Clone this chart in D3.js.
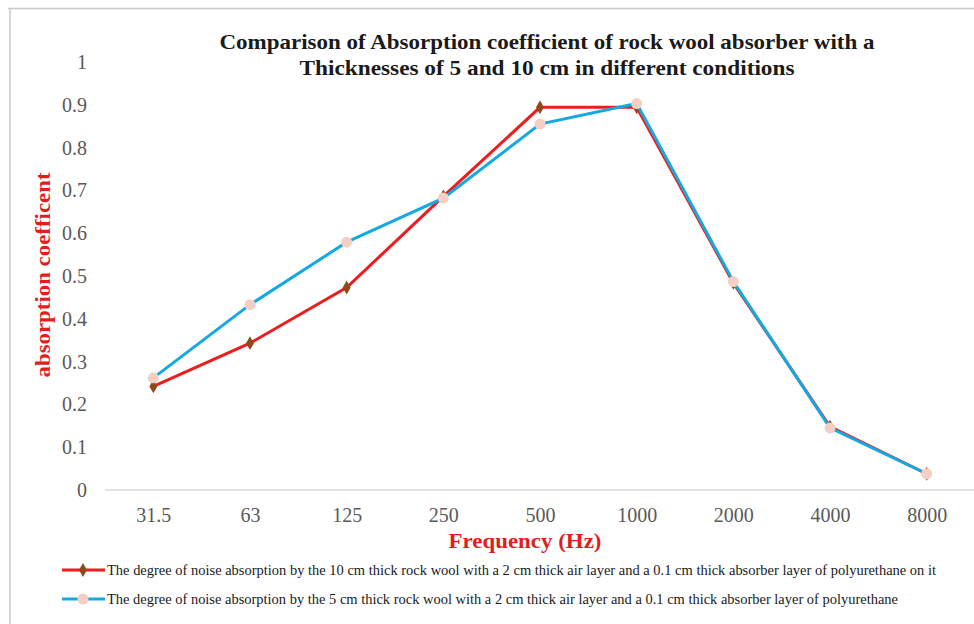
<!DOCTYPE html>
<html><head><meta charset="utf-8">
<script src="https://cdn.jsdelivr.net/npm/d3@7"></script>
<style>body{margin:0;background:#fff}svg{display:block}</style>
</head><body>
<svg id="c" width="974" height="624"></svg>
<script>
const frequencies = ["31.5","63","125","250","500","1000","2000","4000","8000"];
const series10cm = [0.242, 0.343, 0.473, 0.686, 0.894, 0.894, 0.484, 0.148, 0.038];
const series5cm  = [0.262, 0.433, 0.579, 0.682, 0.855, 0.903, 0.487, 0.145, 0.038];
const yTicks = [0,0.1,0.2,0.3,0.4,0.5,0.6,0.7,0.8,0.9,1];
const titleLines = ["Comparison of Absorption  coefficient of rock wool absorber with a","Thicknesses of 5  and 10 cm in different conditions"];
const legendLabels = [
  "The degree of noise absorption by the 10 cm thick rock wool with a 2 cm thick air layer and a 0.1 cm thick absorber layer of polyurethane on it",
  "The degree of noise absorption by the 5 cm thick rock wool with a 2 cm thick air layer and a 0.1 cm thick absorber layer of polyurethane"
];

const svg = d3.select("#c");
const serif = "'Liberation Serif','Times New Roman',serif";

// frame
svg.append("line").attr("x1",8).attr("x2",974).attr("y1",8.5).attr("y2",8.5).attr("stroke","#c8c8c8").attr("stroke-width",1.5);
svg.append("line").attr("x1",10).attr("x2",10).attr("y1",8).attr("y2",624).attr("stroke","#c8c8c8").attr("stroke-width",1.5);

const x = d3.scalePoint().domain(frequencies).range([105,975]).padding(0.5);
const y = d3.scaleLinear().domain([0,1]).range([490,62]);

// baseline
svg.append("line").attr("x1",105).attr("x2",974).attr("y1",y(0)).attr("y2",y(0)).attr("stroke","#d9d9d9").attr("stroke-width",1.5);

// y axis
const ya = svg.append("g").attr("transform","translate(87,0)")
  .call(d3.axisLeft(y).tickValues(yTicks).tickSize(0).tickPadding(0).tickFormat(d3.format("")));
ya.select(".domain").remove();
ya.selectAll("text").attr("font-family",serif).attr("font-size",20).attr("fill","#595959");

// x axis
const xa = svg.append("g").attr("transform","translate(0,"+y(0)+")")
  .call(d3.axisBottom(x).tickSize(0).tickPadding(18));
xa.select(".domain").remove();
xa.selectAll("text").attr("font-family",serif).attr("font-size",20).attr("fill","#595959");

// title
const titleLen = [655, 495];
svg.append("g").selectAll("text").data(titleLines).join("text")
  .attr("x",547).attr("y",(d,i)=>49+i*26).attr("text-anchor","middle")
  .attr("font-family",serif).attr("font-weight","bold").attr("font-size",22).attr("fill","#1a1a1a")
  .attr("textLength",(d,i)=>titleLen[i]).attr("lengthAdjust","spacingAndGlyphs")
  .text(d=>d);

// axis titles
svg.append("text").attr("transform","translate(50,275) rotate(-90)").attr("text-anchor","middle")
  .attr("font-family",serif).attr("font-weight","bold").attr("font-size",22).attr("fill","#e31d1d")
  .attr("textLength",205).attr("lengthAdjust","spacingAndGlyphs")
  .text("absorption coefficent");
svg.append("text").attr("x",525).attr("y",548).attr("text-anchor","middle")
  .attr("font-family",serif).attr("font-weight","bold").attr("font-size",22).attr("fill","#e31d1d")
  .attr("textLength",153).attr("lengthAdjust","spacingAndGlyphs")
  .text("Frequency (Hz)");

const line = d3.line().x((d,i)=>x(frequencies[i])).y(d=>y(d));
const redC = "#ee1c1c", blueC = "#14a9e1", diamondC = "#8f4a1c", circleC = "#f6cfc4";
const diamond = d3.symbol().type(d3.symbolDiamond).size(55);

svg.append("path").datum(series10cm).attr("d",line).attr("fill","none").attr("stroke",redC).attr("stroke-width",3);
svg.append("g").selectAll("path").data(series10cm).join("path")
  .attr("transform",(d,i)=>"translate("+x(frequencies[i])+","+y(d)+")").attr("d",diamond).attr("fill",diamondC);

svg.append("path").datum(series5cm).attr("d",line).attr("fill","none").attr("stroke",blueC).attr("stroke-width",3);
svg.append("g").selectAll("circle").data(series5cm).join("circle")
  .attr("cx",(d,i)=>x(frequencies[i])).attr("cy",d=>y(d)).attr("r",5.5).attr("fill",circleC);

// legend
const lg = svg.append("g");
const ly = [570,599];
const legLen = [829, 791];
lg.append("line").attr("x1",62).attr("x2",105).attr("y1",ly[0]).attr("y2",ly[0]).attr("stroke",redC).attr("stroke-width",3);
lg.append("path").attr("transform","translate(83,"+ly[0]+")").attr("d",diamond).attr("fill",diamondC);
lg.append("line").attr("x1",62).attr("x2",105).attr("y1",ly[1]).attr("y2",ly[1]).attr("stroke",blueC).attr("stroke-width",3);
lg.append("circle").attr("cx",83).attr("cy",ly[1]).attr("r",5.5).attr("fill",circleC);
lg.selectAll("text").data(legendLabels).join("text")
  .attr("x",107).attr("y",(d,i)=>ly[i]+5)
  .attr("font-family",serif).attr("font-size",14.5).attr("fill","#1a1a1a")
  .attr("textLength",(d,i)=>legLen[i]).attr("lengthAdjust","spacingAndGlyphs")
  .text(d=>d);
</script>
</body></html>
